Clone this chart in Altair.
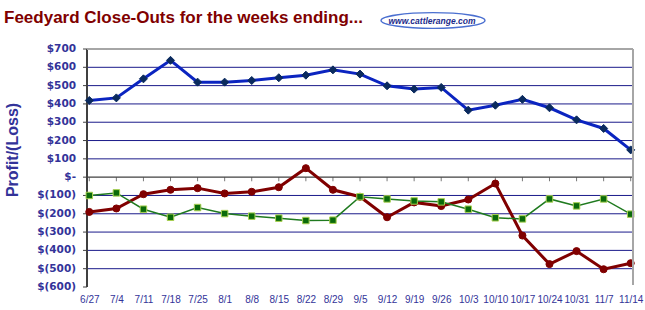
import altair as alt
import pandas as pd

title_text = "Feedyard Close-Outs for the weeks ending..."
logo_text = "www.cattlerange.com"
y_title = "Profit/(Loss)"

weeks = ["6/27", "7/4", "7/11", "7/18", "7/25", "8/1", "8/8", "8/15", "8/22", "8/29",
         "9/5", "9/12", "9/19", "9/26", "10/3", "10/10", "10/17", "10/24", "10/31", "11/7", "11/14"]
blue = [419, 433, 537, 638, 519, 519, 528, 543, 557, 586, 563, 499, 481, 490, 366, 393, 425, 379, 313, 266, 149]
red = [-190, -171, -93, -69, -60, -89, -80, -55, 49, -69, -107, -219, -138, -158, -122, -35, -319, -475, -404, -503, -470]
green = [-100, -86, -175, -219, -166, -199, -213, -224, -237, -235, -107, -119, -130, -135, -175, -222, -228, -119, -157, -119, -202]
y_ticks = [700, 600, 500, 400, 300, 200, 100, 0, -100, -200, -300, -400, -500, -600]
y_labels = ["$700\u00a0", "$600\u00a0", "$500\u00a0", "$400\u00a0", "$300\u00a0", "$200\u00a0", "$100\u00a0",
            "$-\u00a0\u00a0", "$(100)", "$(200)", "$(300)", "$(400)", "$(500)", "$(600)"]
grid_vals = [v for v in y_ticks if v not in (-600, 0, 700)]

rows = []
for name, vals in (("blue", blue), ("red", red), ("green", green)):
    for w, v in zip(weeks, vals):
        rows.append({"week": w, "value": v, "series": name})
df = pd.DataFrame(rows)
wk = pd.DataFrame({"week": weeks, "value": [0] * len(weeks)})
ylab = pd.DataFrame({"value": y_ticks, "label": y_labels})

LABEL = "#333399"
AXIS = "#404040"
W, H = 546, 238

x_enc = alt.X("week:N", sort=weeks,
              scale=alt.Scale(type="point", padding=0.085),
              axis=alt.Axis(title=None, domain=False, ticks=False, tickSize=0, grid=False,
                            labelAngle=0, labelPadding=7, labelFont="Liberation Sans",
                            labelFontSize=10, labelColor=LABEL, labelOverlap=False))
y_enc = alt.Y("value:Q",
              scale=alt.Scale(domain=[-600, 700], nice=False, zero=False),
              axis=None)

base = alt.Chart(df)


def series(name, line_color, width, shape, fill, stroke, size, stroke_w):
    src = base.transform_filter(alt.datum.series == name)
    line = src.mark_line(color=line_color, strokeWidth=width).encode(x=x_enc, y=y_enc)
    pts = src.mark_point(shape=shape, filled=True, fill=fill, stroke=stroke,
                         strokeWidth=stroke_w, size=size, opacity=1).encode(x=x_enc, y=y_enc)
    return line + pts


grid = alt.Chart(pd.DataFrame({"value": grid_vals})).mark_rule(
    color="#1a1a8a", strokeWidth=1).encode(y=y_enc)
zero_rule = alt.Chart(pd.DataFrame({"value": [0]})).mark_rule(color=AXIS, strokeWidth=1.2).encode(y=y_enc)
zero_ticks = alt.Chart(wk).mark_tick(orient="vertical", size=4, thickness=1, yOffset=2,
                                     color=AXIS).encode(x=x_enc, y=y_enc)
y_tick_marks = alt.Chart(ylab).mark_rule(color=AXIS, strokeWidth=1).encode(
    x=alt.value(-4), x2=alt.value(0), y=y_enc)
y_tick_labels = alt.Chart(ylab).mark_text(
    align="right", baseline="middle", font="DejaVu Sans", fontWeight="bold",
    fontSize=10.5, color=LABEL).encode(x=alt.value(-11), y=y_enc, text="label:N")
y_domain = alt.Chart(ylab).mark_rule(color=AXIS, strokeWidth=1.5).encode(
    x=alt.value(0), y=alt.value(0), y2=alt.value(H))
top_border = alt.Chart(wk).mark_rule(color="#a6a6a6", strokeWidth=2).encode(
    x=alt.value(0), x2=alt.value(W), y=alt.value(0))
right_border = alt.Chart(wk).mark_rule(color="#a6a6a6", strokeWidth=2).encode(
    x=alt.value(W), y=alt.value(0), y2=alt.value(H - 2))

title = alt.Chart(pd.DataFrame({"t": [title_text]})).mark_text(
    align="left", baseline="alphabetic", font="Liberation Sans", fontWeight="bold",
    fontSize=17, color="#800000").encode(text="t:N", x=alt.value(-83), y=alt.value(-26))

ellipse = alt.Chart(pd.DataFrame({"t": [logo_text]})).mark_point(
    shape="M-1,0A1,0.15 0 1,1 1,0A1,0.15 0 1,1 -1,0", size=104 * 104,
    fill="white", filled=True, stroke="#4a6fd0", strokeWidth=1.3, opacity=1).encode(
    x=alt.value(346), y=alt.value(-28.5))
logo = alt.Chart(pd.DataFrame({"t": [logo_text]})).mark_text(
    align="center", baseline="middle", font="Liberation Sans",
    fontWeight="bold", fontStyle="italic", fontSize=8.5, color="#1a2a8a").encode(
    text="t:N", x=alt.value(345), y=alt.value(-28.5))

ytitle = alt.Chart(pd.DataFrame({"t": [y_title]})).mark_text(
    align="center", baseline="middle", angle=270, font="Liberation Sans", fontWeight="bold",
    fontSize=16, color=LABEL).encode(text="t:N", x=alt.value(-74), y=alt.value(101))

chart = alt.layer(
    grid,
    zero_rule,
    zero_ticks,
    y_domain,
    y_tick_marks,
    y_tick_labels,
    series("blue", "#0b24c0", 3, "diamond", "#0a2a5e", "#0a2a5e", 64, 1),
    series("red", "#800000", 3, "circle", "#800000", "#800000", 50, 1),
    series("green", "#1f7a1f", 1.5, "square", "#0a6a0a", "#a8d050", 42, 1),
    top_border,
    right_border,
    title,
    ellipse,
    logo,
    ytitle,
).properties(
    width=W, height=H,
    padding={"left": 87, "top": 49, "right": 12, "bottom": 23},
    autosize=alt.AutoSizeParams(type="none"),
).configure_view(stroke=None).configure_axis(labelOverlap=False)

chart.save("out.html", embed_options={"renderer": "svg", "actions": False})
